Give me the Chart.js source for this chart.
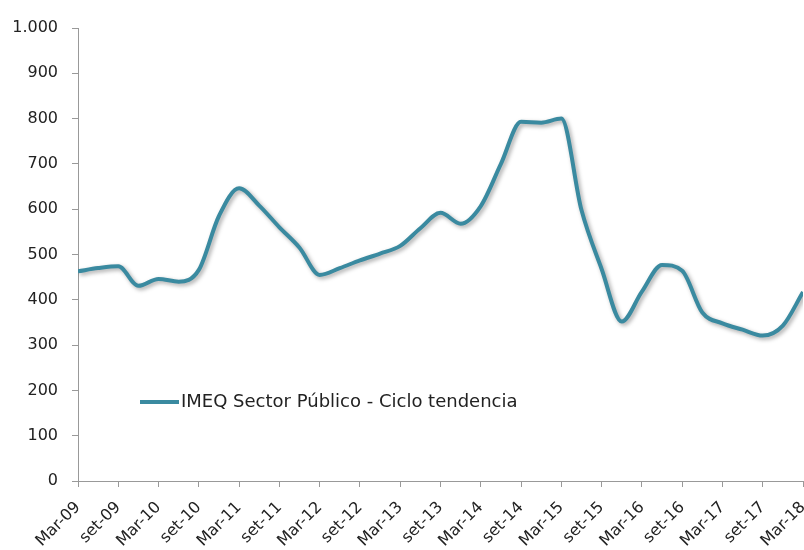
<!DOCTYPE html>
<html>
<head>
<meta charset="utf-8">
<script src="https://cdn.jsdelivr.net/npm/chart.js@4.4.0/dist/chart.umd.min.js"></script>
<style>
  html, body { margin: 0; padding: 0; background: #fff; }
  #wrap { width: 804px; height: 550px; position: relative; }
</style>
</head>
<body>
<div id="wrap"><canvas id="chart"></canvas></div>
<script>
// half-year tick labels, data is quarterly (Mar-09 .. Mar-18)
const tickLabels = ['Mar-09', 'set-09', 'Mar-10', 'set-10', 'Mar-11', 'set-11', 'Mar-12', 'set-12',
    'Mar-13', 'set-13', 'Mar-14', 'set-14', 'Mar-15', 'set-15', 'Mar-16', 'set-16', 'Mar-17', 'set-17', 'Mar-18'];

const seriesName = 'IMEQ Sector Público - Ciclo tendencia';
const values = [
    463, 470, 474, 431, 446, 440, 466, 585, 646, 608,
    560, 515, 455, 470, 487, 502, 519, 558, 592, 568,
    607, 700, 793, 791, 800, 598, 468, 352, 418, 477,
    464, 372, 348, 334, 321, 343, 417
];

const lineColor = '#3a8aa0';
const textColor = '#222';
const fontFamily = '"DejaVu Sans", Verdana, sans-serif';

const points = values.map((v, i) => ({ x: i, y: v }));

// soft drop shadow under the line
const shadowPlugin = {
    id: 'shadow',
    beforeDatasetDraw(chart) {
        const ctx = chart.ctx;
        ctx.save();
        ctx.shadowColor = 'rgba(0,0,0,0.35)';
        ctx.shadowBlur = 4;
        ctx.shadowOffsetX = 2;
        ctx.shadowOffsetY = 2;
    },
    afterDatasetDraw(chart) {
        chart.ctx.restore();
    }
};

// legend sits inside the plot, lower left
const insideLegend = {
    id: 'insideLegend',
    afterDraw(chart) {
        const ctx = chart.ctx;
        const x = 140, y = 402;
        ctx.save();
        ctx.strokeStyle = lineColor;
        ctx.lineWidth = 4;
        ctx.beginPath();
        ctx.moveTo(x, y);
        ctx.lineTo(x + 39, y);
        ctx.stroke();
        ctx.fillStyle = textColor;
        ctx.font = '18px ' + fontFamily;
        ctx.textBaseline = 'middle';
        ctx.fillText(seriesName, x + 41, y);
        ctx.restore();
    }
};

new Chart(document.getElementById('chart'), {
    type: 'line',
    data: {
        datasets: [{
            label: seriesName,
            data: points,
            borderColor: lineColor,
            borderWidth: 4,
            pointRadius: 0,
            cubicInterpolationMode: 'monotone',
            fill: false
        }]
    },
    options: {
        responsive: true,
        maintainAspectRatio: false,
        animation: false,
        layout: { padding: { top: 28, right: 1, left: 0, bottom: 0 } },
        plugins: {
            legend: { display: false },
            tooltip: { enabled: false }
        },
        scales: {
            x: {
                type: 'linear',
                min: 0,
                max: 36,
                afterFit: s => { s.height = 69; s.paddingRight = 0; s.paddingLeft = 0; },
                border: { color: '#999', width: 1 },
                grid: { drawOnChartArea: false, tickLength: 6, color: '#999' },
                ticks: {
                    stepSize: 2,
                    autoSkip: false,
                    minRotation: 45,
                    maxRotation: 45,
                    padding: 11,
                    color: textColor,
                    font: { family: fontFamily, size: 16 },
                    callback: v => tickLabels[v / 2] || ''
                }
            },
            y: {
                min: 0,
                max: 1000,
                afterFit: s => { s.width = 78; s.paddingTop = 0; s.paddingBottom = 0; },
                border: { color: '#999', width: 1 },
                grid: { drawOnChartArea: false, tickLength: 6, color: '#999' },
                ticks: {
                    stepSize: 100,
                    padding: 14,
                    color: textColor,
                    font: { family: fontFamily, size: 16 },
                    callback: v => v >= 1000 ? (v / 1000) + '.' + String(v % 1000).padStart(3, '0') : v
                }
            }
        }
    },
    plugins: [shadowPlugin, insideLegend]
});
</script>
</body>
</html>
